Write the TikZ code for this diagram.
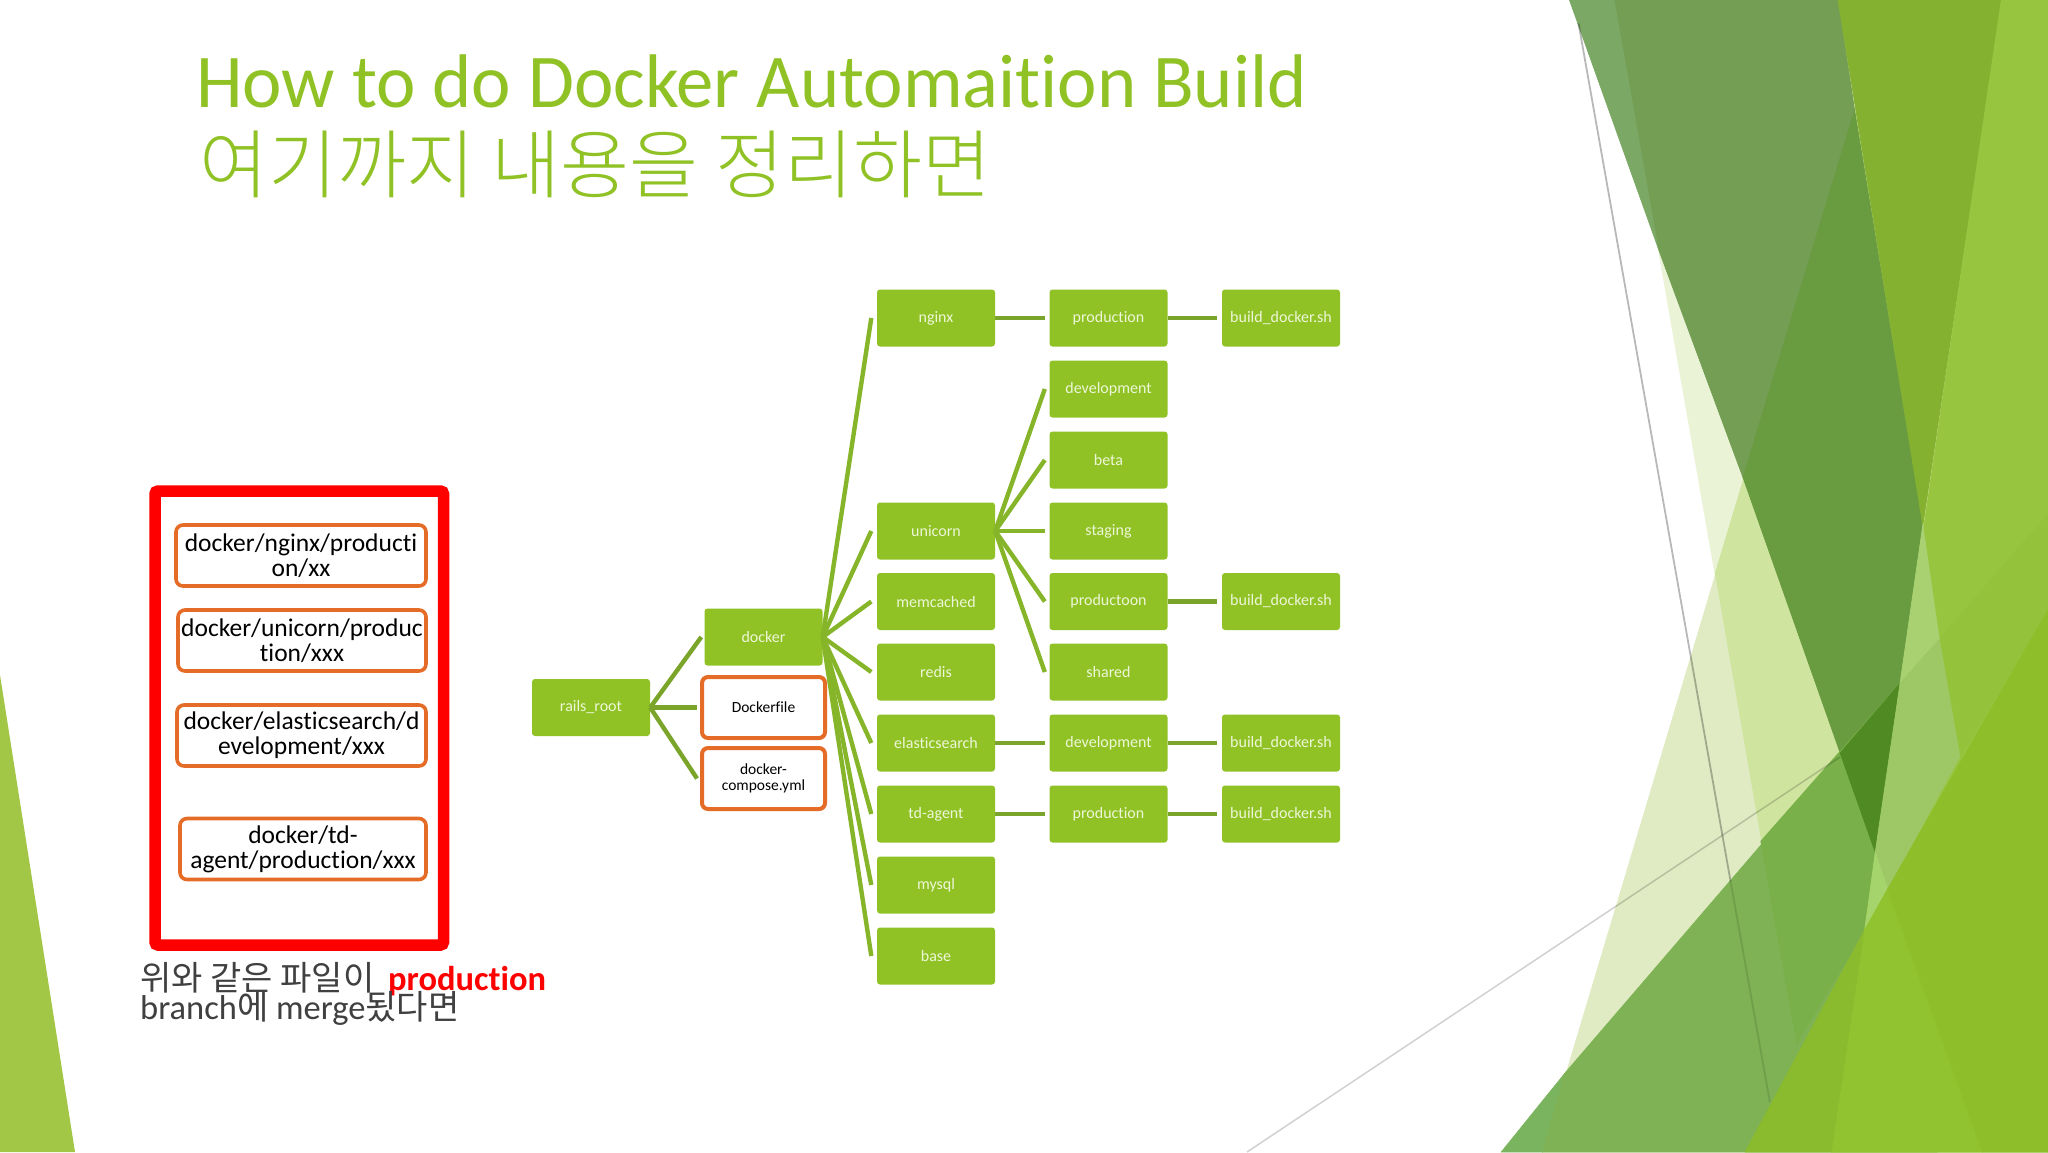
\documentclass[tikz,border=0pt]{standalone}
\usepackage{fontspec}
\setmainfont[Ligatures=NoCommon]{Carlito}
\newfontfamily\ttl[Ligatures=NoCommon,FakeStretch=0.983]{Carlito}
\newfontfamily\kr{Noto Sans CJK KR}
\newfontfamily\krl{Noto Sans CJK KR Light}
\definecolor{facet}{HTML}{90C226}
\definecolor{lineA}{HTML}{7BA52A}
\definecolor{lineB}{HTML}{86B52A}
\definecolor{boxtext}{HTML}{EEF6D8}
\definecolor{orangeb}{HTML}{E46C26}
\definecolor{cap}{HTML}{404040}
\tikzset{
  hex/.code={\definecolor{tmphex}{HTML}{#1}\pgfkeysalso{color=tmphex}},
  greenbox/.style={fill=facet,text=boxtext,rounded corners=3pt,minimum width=118pt,minimum height=57pt,inner sep=0pt,font=\fontsize{16}{16}\selectfont,align=center},
  whitebox/.style={draw=orangeb,line width=4pt,fill=white,text=black,rounded corners=6pt,minimum width=123pt,minimum height=61pt,inner sep=0pt,font=\fontsize{15.5}{15.6}\selectfont,align=center},
  pathbox/.style={draw=orangeb,line width=3.6pt,fill=white,text=black,rounded corners=7pt,minimum height=61pt,inner sep=0pt,font=\fontsize{25.5}{24.7}\selectfont,align=center},
  linkA/.style={draw=lineA,line width=4.4pt},
  linkB/.style={draw=lineB,line width=4.4pt},
  titletext/.style={text=facet,anchor=base west,inner sep=0pt},
  captext/.style={text=cap,anchor=base west,inner sep=0pt}
}
\begin{document}
\begin{tikzpicture}[x=1pt,y=-1pt]
\useasboundingbox (0,0) rectangle (2048,1152);
\fill[white] (0,0) rectangle (2048,1152);
% left facet
\fill[hex=A2C645] (0,675) -- (75,1152) -- (0,1152) -- cycle;
% right facets
\begin{scope}[shift={(1400pt,0pt)},x=0.41327pt,y=-0.73469pt,line width=.7pt]
\filldraw[hex=EBF3D7] (520,0) -- (1568,0) -- (1568,1568) -- (960,1420) -- cycle;
\filldraw[hex=E0EBC3] (1100,150) -- (345,1568) -- (1568,1568) -- (1568,150) -- cycle;
\filldraw[hex=CFE49E] (763,780) -- (1100,150) -- (1568,150) -- (1568,1568) -- (960,1420) -- cycle;
\filldraw[hex=7CA865] (410,0) -- (520,0) -- (628,343) -- cycle;
\filldraw[hex=739E54] (520,0) -- (1060,0) -- (1100,150) -- (830,650) -- (628,343) -- cycle;
\filldraw[hex=699B41] (1100,150) -- (1265,715) -- (1150,1160) -- (830,650) -- cycle;
\filldraw[hex=7BB45E] (245,1568) -- (400,1460) -- (345,1568) -- cycle;
\filldraw[hex=7EB254] (345,1568) -- (400,1460) -- (1210,930) -- (1300,1568) -- cycle;
\filldraw[hex=79B049] (873,1145) -- (1210,930) -- (1150,1160) -- (1125,1265) -- (960,1420) -- cycle;
\filldraw[hex=4F8A23] (1065,1025) -- (1210,930) -- (1150,1160) -- cycle;
\filldraw[hex=84B12F] (1060,0) -- (1455,0) -- (1265,715) -- cycle;
\filldraw[hex=97C53F] (1455,0) -- (1568,0) -- (1568,1568) -- (1045,1568) -- cycle;
\filldraw[hex=94C33B] (1305,870) -- (1568,700) -- (1568,830) -- (1355,1030) -- cycle;
\filldraw[hex=A9D171] (1265,715) -- (1305,870) -- (1210,930) -- cycle;
\filldraw[hex=9DC865] (1210,930) -- (1305,870) -- (1355,1030) -- (1180,1210) -- (1150,1160) -- cycle;
\filldraw[hex=A6D46C] (1150,1160) -- (1180,1210) -- (1125,1265) -- cycle;
\filldraw[hex=8ABA2E] (835,1568) -- (1125,1265) -- (1045,1568) -- cycle;
\filldraw[hex=91C22F] (1125,1265) -- (1180,1210) -- (1410,1568) -- (1045,1568) -- cycle;
\filldraw[hex=8EBF2A] (1180,1210) -- (1568,830) -- (1568,1568) -- (1410,1568) -- cycle;
\draw[black,opacity=.28,line width=1.8pt] (432,32) -- (800,1200);
\draw[hex=6F9F4A,line width=1.8pt] (800,1200) -- (895,1500);
\end{scope}
\draw[black,opacity=.18,line width=1.5pt] (1247,1152) -- (1840,757);
% title
\node[titletext,font=\ttl\fontsize{76}{76}\selectfont] (title1) at (196,107) {How to do Docker Automaition Build};
\node[titletext,font=\krl\fontsize{75}{75}\selectfont] (title2) at (199,192) {여기까지 내용을 정리하면};
% left panel
\node[draw=red,line width=11.5pt,rounded corners=3pt,minimum width=288.5pt,minimum height=454pt,inner sep=0pt] (redbox) at (299.25,718) {};
\node[pathbox,minimum width=250pt] (p1) at (301,555.5) {docker/nginx/producti\\on/xx};
\node[pathbox,minimum width=248pt] (p2) at (302,640.5) {docker/unicorn/produc\\tion/xxx};
\node[pathbox,minimum width=249pt] (p3) at (301.5,735.5) {docker/elasticsearch/d\\evelopment/xxx};
\node[pathbox,minimum width=246pt] (p4) at (303,849) {docker/td-\\agent/production/xxx};
\node[captext,font=\kr\fontsize{34}{34}\selectfont] (cap1) at (140,990) {위와 같은 파일이};
\node[text=red,anchor=base west,inner sep=0pt,font=\bfseries\fontsize{34.5}{34.5}\selectfont] (cap2) at (388,990) {production};
\node[captext,font=\fontsize{34.5}{34.5}\selectfont] (cap3) at (140,1019) {branch{\kr\fontsize{34}{34}\selectfont 에} merge{\kr\fontsize{34}{34}\selectfont 됬다면}};
% tree
\node[greenbox] (root) at (591,707.5) {rails\_root};
\node[greenbox] (docker) at (763.5,637) {docker};
\node[whitebox] (dfile) at (763.5,707.5) {Dockerfile};
\node[whitebox] (compose) at (763.5,778.5) {docker-\\compose.yml};
\node[greenbox] (nginx) at (936,318) {nginx};
\node[greenbox] (unicorn) at (936,531) {unicorn};
\node[greenbox] (memc) at (936,601.5) {memcached};
\node[greenbox] (redis) at (936,672) {redis};
\node[greenbox] (elastic) at (936,743) {elasticsearch};
\node[greenbox] (td) at (936,814) {td-agent};
\node[greenbox] (mysql) at (936,885) {mysql};
\node[greenbox] (base) at (936,956) {base};
\node[greenbox] (nprod) at (1108.5,318) {production};
\node[greenbox] (udev) at (1108.5,389) {development};
\node[greenbox] (ubeta) at (1108.5,460) {beta};
\node[greenbox] (ustag) at (1108.5,531) {staging};
\node[greenbox] (uprod) at (1108.5,601.5) {productoon};
\node[greenbox] (ushared) at (1108.5,672) {shared};
\node[greenbox] (edev) at (1108.5,743) {development};
\node[greenbox] (tprod) at (1108.5,814) {production};
\node[greenbox] (b1) at (1281,318) {build\_docker.sh};
\node[greenbox] (b2) at (1281,601.5) {build\_docker.sh};
\node[greenbox] (b3) at (1281,743) {build\_docker.sh};
\node[greenbox] (b4) at (1281,814) {build\_docker.sh};
% connectors
\foreach \t in {docker,dfile,compose} \draw[linkA] (root.east) -- ([xshift=-3pt]\t.west);
\foreach \t in {nginx,unicorn,memc,redis,elastic,td,mysql,base} \draw[linkB] (docker.east) -- ([xshift=-5.5pt]\t.west);
\foreach \t in {udev,ubeta,ustag,uprod,ushared} \draw[linkB] (unicorn.east) -- ([xshift=-4.5pt]\t.west);
\draw[linkA] (nginx.east) -- ([xshift=-4.5pt]nprod.west);
\draw[linkA] (nprod.east) -- ([xshift=-4.5pt]b1.west);
\draw[linkA] (uprod.east) -- ([xshift=-4.5pt]b2.west);
\draw[linkA] (elastic.east) -- ([xshift=-4.5pt]edev.west);
\draw[linkA] (edev.east) -- ([xshift=-4.5pt]b3.west);
\draw[linkA] (td.east) -- ([xshift=-4.5pt]tprod.west);
\draw[linkA] (tprod.east) -- ([xshift=-4.5pt]b4.west);
\end{tikzpicture}
\end{document}
